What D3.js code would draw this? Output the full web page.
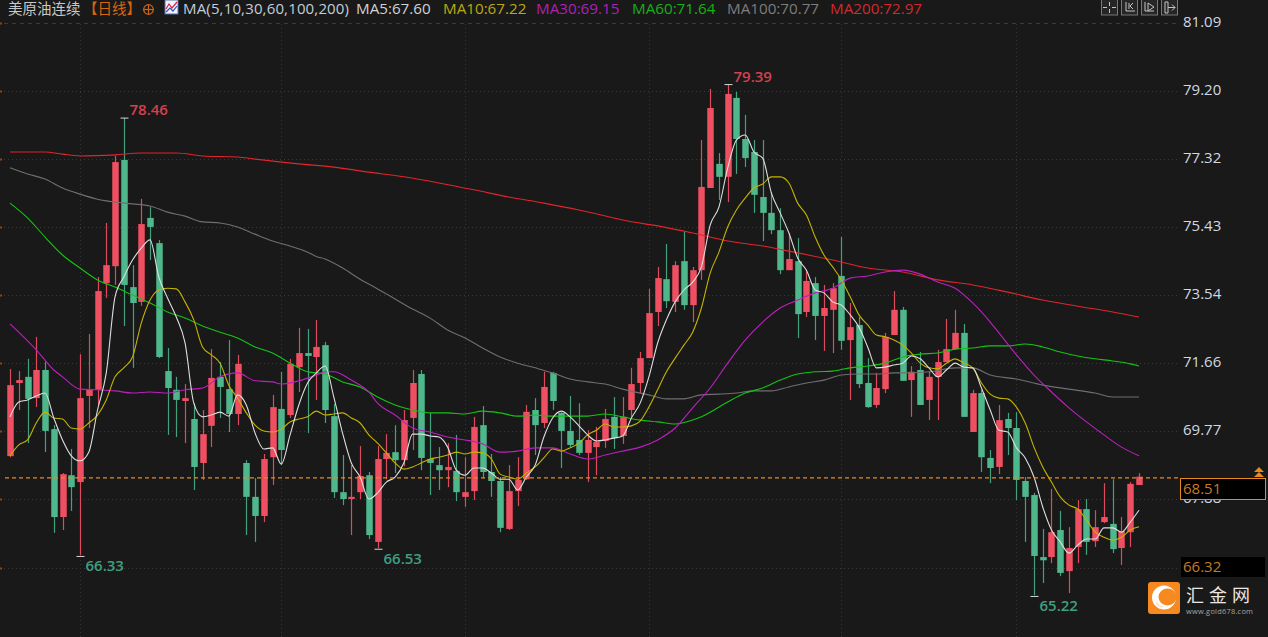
<!DOCTYPE html>
<html><head><meta charset="utf-8">
<script src="https://cdn.jsdelivr.net/npm/d3@7/dist/d3.min.js"></script>
<style>html,body{margin:0;padding:0;background:#191919;overflow:hidden}svg{display:block}</style>
</head><body><div id="chart"></div>
<script>
const priceTicks=[81.09,79.20,77.32,75.43,73.54,71.66,69.77,67.88,65.99];
const vGridIdx=[8,31,52,73,95,115];
const openP=[69.08,71.11,71.28,70.69,71.47,69.83,67.39,68.55,68.36,70.75,
70.92,73.88,74.35,77.30,73.77,73.36,75.69,74.99,71.44,70.92,
70.61,70.11,68.89,69.92,71.28,70.94,70.25,68.89,67.95,67.42,
69.05,70.39,70.22,71.55,71.94,71.83,72.16,70.19,68.08,67.89,
68.08,68.55,66.70,69.00,69.19,68.97,70.14,71.36,69.00,68.83,
68.69,68.67,67.95,68.11,69.94,68.64,68.39,67.06,68.11,68.44,
70.36,70.00,71.39,70.28,69.78,69.53,69.17,69.33,69.50,70.17,
69.64,70.36,71.11,71.80,73.08,73.99,73.36,74.49,73.27,74.24,
76.52,77.19,76.83,79.02,77.88,77.52,76.27,75.83,75.35,74.24,
74.49,73.08,73.88,72.97,73.14,74.08,72.30,72.72,71.11,70.50,
70.94,72.44,73.14,71.19,71.47,70.64,71.28,71.69,72.05,72.50,
69.75,70.83,69.03,68.78,70.11,69.86,68.39,68.00,66.28,66.28,
67.03,65.89,66.56,67.61,66.72,67.25,67.20,66.53,66.97,68.28];
const closeP=[71.05,71.19,70.67,71.47,69.78,67.39,68.58,68.22,70.69,70.94,
73.66,74.38,77.24,73.83,73.33,75.52,75.44,71.83,70.97,70.64,
70.69,68.78,69.69,71.25,71.00,70.25,71.64,67.95,67.42,69.00,
70.44,69.25,71.64,71.94,71.86,72.11,70.36,68.08,67.89,67.95,
68.53,66.89,69.00,69.17,68.97,70.08,71.11,69.03,68.89,68.69,
68.78,68.08,68.08,69.89,68.64,68.39,67.09,68.11,68.42,70.31,
69.94,71.00,70.61,69.78,69.39,69.17,69.53,69.47,70.11,69.58,
70.17,71.08,71.80,73.05,74.02,73.38,74.38,73.27,74.24,76.55,
78.74,76.83,79.13,77.88,77.35,76.33,75.83,75.35,74.24,74.55,
73.02,73.94,72.97,73.19,73.74,72.28,72.66,71.08,70.44,70.97,
72.39,73.14,71.17,71.42,70.50,71.28,71.69,72.05,72.50,70.17,
70.83,69.05,68.75,70.08,69.86,68.42,67.95,66.31,66.19,66.97,
65.84,66.53,67.61,66.70,67.11,67.39,66.50,67.00,68.31,68.51];
const highP=[71.50,71.44,71.78,72.39,71.69,69.94,68.61,69.28,71.91,72.47,
74.05,75.55,77.41,78.46,74.38,76.22,75.99,75.08,72.08,71.28,
71.08,70.55,70.36,72.05,71.69,72.30,71.89,68.97,68.47,69.14,
70.78,71.42,71.78,72.64,72.61,72.86,72.25,70.53,69.11,68.83,
69.36,68.64,69.36,69.69,69.94,70.36,71.47,71.47,70.28,69.33,
69.44,69.67,69.05,70.17,70.47,69.14,68.50,68.83,69.05,70.50,
70.69,71.42,71.42,70.30,70.75,70.55,69.80,69.89,70.39,70.72,
70.72,71.53,71.97,73.72,74.33,74.97,74.49,75.30,74.33,77.85,
79.27,77.49,79.39,79.19,78.55,77.85,77.85,76.41,75.96,75.27,
75.13,74.24,74.05,73.83,73.88,75.16,73.33,72.94,71.80,71.39,
72.50,73.66,73.22,71.58,71.97,71.42,72.03,72.89,73.14,72.75,
70.92,70.92,69.25,70.50,70.28,70.30,68.50,68.06,67.06,68.17,
67.56,67.11,67.86,67.89,67.58,68.33,68.44,67.39,68.36,68.61];
const lowP=[69.05,70.36,69.44,70.44,69.19,66.95,67.03,67.56,66.33,69.86,
70.50,73.47,73.83,72.69,71.53,73.25,74.52,71.80,69.67,69.61,
69.44,68.14,68.42,69.33,70.14,69.75,69.94,66.89,66.70,67.25,
68.28,68.83,70.14,70.86,69.72,70.64,70.00,67.92,67.72,66.89,
67.89,66.78,66.53,68.44,68.61,68.80,69.25,68.69,68.00,68.14,
68.22,67.83,67.67,67.86,68.47,67.95,66.97,67.03,67.70,68.42,
69.11,69.86,70.36,68.75,69.33,69.11,68.36,68.55,69.31,69.28,
69.42,70.17,70.83,71.80,72.69,73.19,73.08,73.14,72.80,73.97,
76.52,76.19,76.13,76.91,77.10,75.83,75.05,75.24,74.13,74.24,
72.36,72.94,72.30,72.00,71.94,72.03,70.64,70.97,70.42,70.42,
70.83,72.44,71.17,70.17,70.50,70.08,70.08,71.69,72.03,70.17,
69.75,68.64,68.33,68.58,69.11,67.86,66.70,65.22,65.56,66.11,
65.75,65.28,66.11,66.34,66.56,67.22,66.39,66.06,66.56,68.28];
const ma5=[70.17,70.58,70.64,70.75,70.83,70.14,69.53,69.09,68.95,69.19,
70.36,71.39,73.50,74.05,74.52,74.85,75.08,74.05,73.47,72.94,
72.22,70.55,70.17,70.22,70.30,70.19,70.78,70.50,69.72,69.28,
69.31,68.86,69.67,70.50,71.11,71.39,71.58,70.72,69.72,68.89,
68.50,67.89,68.06,68.36,68.50,68.89,69.69,69.69,69.64,69.61,
69.33,68.69,68.55,68.75,68.75,68.61,68.44,68.44,68.14,68.50,
68.83,69.61,70.14,70.33,70.17,69.92,69.67,69.50,69.53,69.58,
69.64,70.14,70.55,71.28,72.22,72.86,73.36,73.69,73.91,74.33,
75.49,75.99,77.07,77.85,77.99,77.52,77.35,76.38,75.83,75.27,
74.58,74.24,73.69,73.61,73.36,73.27,73.00,72.66,72.11,71.53,
71.55,71.61,71.66,71.86,71.78,71.53,71.28,71.47,71.66,71.55,
71.53,70.97,70.36,69.80,69.75,69.31,69.03,68.50,67.67,67.03,
66.70,66.39,66.61,66.78,66.78,67.09,67.09,66.97,67.25,67.58];
const ma10=[69.09,69.39,69.53,70.00,70.30,70.14,70.11,69.86,69.83,70.00,
70.22,70.64,71.28,71.53,71.83,72.77,73.41,73.69,73.74,73.72,
73.36,72.86,72.11,71.89,71.66,71.05,70.69,70.28,69.94,69.78,
69.75,69.83,70.03,70.11,70.17,70.33,70.22,70.25,70.28,70.14,
70.00,69.67,69.44,69.17,68.89,68.72,68.78,68.89,69.00,69.05,
69.11,69.19,69.14,69.19,69.17,69.00,68.58,68.50,68.44,68.61,
68.78,69.03,69.28,69.22,69.31,69.44,69.67,69.80,69.97,69.89,
69.89,69.92,70.05,70.44,70.92,71.42,71.80,72.16,72.52,73.19,
74.16,74.74,75.44,75.91,76.24,76.52,76.63,76.83,76.83,76.66,
76.10,75.77,75.16,74.66,74.33,73.97,73.50,73.00,72.72,72.44,
72.39,72.30,72.16,71.94,71.66,71.53,71.50,71.66,71.78,71.66,
71.53,71.11,70.80,70.69,70.67,70.44,70.00,69.33,68.78,68.36,
67.95,67.72,67.61,67.31,66.97,66.83,66.75,66.83,67.03,67.12];
const ma30Idx=[0,3,5,6,8,10,12,14,16,18,20,22,24,26,28,30,31,33,35,36,37,39,41,42,44,46,48,50,52,54,56,58,60,62,64,66,68,70,72,74,76,78,80,82,84,86,88,90,92,94,96,98,100,102,104,106,108,110,112,113,115,117,119,121,123,125,127,129];
const ma30=[72.75,72.03,71.47,71.28,70.94,70.92,70.89,70.83,70.86,70.83,70.92,70.97,71.28,71.39,71.17,71.14,71.08,71.17,71.33,71.42,71.42,71.19,70.86,70.55,70.22,69.86,69.75,69.61,69.53,69.42,69.19,69.22,69.31,69.31,69.14,69.00,69.11,69.22,69.33,69.53,69.86,70.42,70.97,71.66,72.30,72.80,73.19,73.41,73.61,73.74,74.02,74.08,74.19,74.24,74.13,73.91,73.74,73.33,72.80,72.50,71.89,71.33,70.86,70.42,70.03,69.67,69.33,69.09];
const ma60Idx=[0,2,4,6,8,10,12,14,16,18,20,22,24,26,28,30,32,34,36,38,40,42,44,46,48,50,52,54,56,58,60,62,64,66,68,70,72,74,76,78,79,80,82,84,86,88,90,92,94,96,98,100,102,104,106,108,110,112,114,116,118,120,122,124,126,128,129];
const ma60=[76.10,75.69,75.16,74.66,74.30,73.97,73.77,73.55,73.33,73.08,72.91,72.69,72.52,72.36,72.11,71.94,71.66,71.42,71.36,71.14,71.00,70.72,70.50,70.36,70.28,70.28,70.25,70.33,70.28,70.19,70.22,70.19,70.19,70.19,70.25,70.17,70.08,70.03,69.97,70.08,70.17,70.30,70.58,70.83,70.97,71.19,71.36,71.42,71.44,71.53,71.58,71.66,71.83,71.91,71.94,72.05,72.08,72.14,72.14,72.19,72.11,71.97,71.86,71.78,71.72,71.64,71.58];
const ma100Idx=[0,2,4,6,8,10,12,14,16,18,20,22,24,26,28,30,32,34,35,36,38,40,42,44,46,48,50,52,54,56,58,60,62,64,66,68,70,73,75,77,79,81,83,85,87,89,91,93,95,97,99,101,103,105,108,110,112,115,118,121,124,126,129];
const ma100=[77.08,76.91,76.77,76.52,76.35,76.21,76.13,76.08,76.02,75.85,75.74,75.58,75.55,75.44,75.24,75.05,74.91,74.74,74.62,74.55,74.30,73.99,73.72,73.44,73.16,72.91,72.58,72.36,72.08,71.83,71.66,71.53,71.39,71.22,71.14,71.08,70.94,70.78,70.67,70.67,70.78,70.80,70.83,70.89,70.89,71.00,71.11,71.19,71.33,71.36,71.36,71.39,71.39,71.42,71.53,71.53,71.33,71.22,71.05,70.94,70.83,70.72,70.72];
const ma200Idx=[0,4,6,8,12,15,19,22,26,28,33,37,41,45,49,53,57,61,65,69,70,74,78,82,86,90,94,98,102,106,110,114,118,122,126,129];
const ma200=[77.52,77.52,77.46,77.41,77.44,77.49,77.49,77.41,77.38,77.32,77.19,77.10,76.96,76.83,76.66,76.47,76.27,76.10,75.91,75.69,75.63,75.47,75.27,75.05,74.91,74.72,74.52,74.30,74.19,73.97,73.83,73.63,73.41,73.24,73.08,72.94];
const extremes=[{i:13,v:78.46,t:"78.46",up:true},{i:82,v:79.39,t:"79.39",up:true},{i:8,v:66.33,t:"66.33",up:false},{i:42,v:66.53,t:"66.53",up:false},{i:117,v:65.22,t:"65.22",up:false}];
const legend=[["MA5:67.60","#d2d2d2",356],["MA10:67.22","#b9a90e",443],["MA30:69.15","#b01fb8",536],["MA60:71.64","#18b018",632],["MA100:70.77","#7d7d7d",727],["MA200:72.97","#d22a2a",830]];
const lastPrice=68.51, cursorPrice="66.32";

const W=1268,H=637,RED="#ee4f61",GREEN="#4fb78c",ORANGE="#e8891f";
const font="'Open Sans','Noto Sans CJK SC',sans-serif";
const svg=d3.select("#chart").append("svg").attr("width",W).attr("height",H).style("font-family",font);
svg.append("rect").attr("width",W).attr("height",H).attr("fill","#191919");
const x=d3.scaleLinear().domain([0,129]).range([10,1139]);
const y=d3.scaleLinear().domain([65.99,81.09]).range([567.5,23.3]);

// grid
svg.append("g").selectAll("line").data(priceTicks).join("line")
 .attr("x1",4).attr("x2",1178).attr("y1",d=>Math.round(y(d))+.5).attr("y2",d=>Math.round(y(d))+.5)
 .attr("stroke","#3a3a3a").attr("stroke-dasharray",(d,i)=>i?"1 3":"4 4");
svg.append("g").selectAll("line").data(priceTicks).join("line")
 .attr("x1",0).attr("x2",2).attr("y1",d=>Math.round(y(d))+.5).attr("y2",d=>Math.round(y(d))+.5).attr("stroke","#8a4412").attr("stroke-width",2);
svg.append("g").selectAll("line").data(vGridIdx).join("line")
 .attr("x1",d=>Math.round(x(d))+.5).attr("x2",d=>Math.round(x(d))+.5).attr("y1",24).attr("y2",637)
 .attr("stroke","#363636").attr("stroke-dasharray","1 3");

// axis labels
const axis=d3.axisRight(y).tickValues(priceTicks).tickSize(0).tickPadding(0).tickFormat(d3.format(".2f"));
const ag=svg.append("g").attr("transform","translate(1183,0)").call(axis);
ag.select(".domain").remove();
ag.selectAll("text").attr("fill","#d0d8e0").attr("font-size",15).attr("font-family",font).attr("dy","0.22em");

// candles
const idx=d3.range(openP.length);
const cg=svg.append("g");
cg.selectAll("line").data(idx).join("line")
 .attr("x1",i=>Math.round(x(i))+.5).attr("x2",i=>Math.round(x(i))+.5)
 .attr("y1",i=>y(highP[i])).attr("y2",i=>y(lowP[i]))
 .attr("stroke",i=>closeP[i]>=openP[i]?"#dc4a5b":"#44a17c").attr("stroke-width",1.2);
cg.selectAll("rect").data(idx).join("rect")
 .attr("x",i=>Math.round(x(i))-2.75).attr("width",6.5)
 .attr("y",i=>y(Math.max(openP[i],closeP[i])))
 .attr("height",i=>Math.max(1.5,Math.abs(y(openP[i])-y(closeP[i]))))
 .attr("fill",i=>closeP[i]>=openP[i]?RED:GREEN);

// MA lines
const maSeries=[[ma200Idx,ma200,"#e0252b"],[ma100Idx,ma100,"#6f6f6f"],[ma60Idx,ma60,"#14c414"],[ma30Idx,ma30,"#bd1fc0"],[idx,ma10,"#c4b400"],[idx,ma5,"#dedede"]];
const lineGen=d3.line().x(d=>x(d[0])).y(d=>y(d[1])).curve(d3.curveMonotoneX);
svg.append("g").selectAll("path").data(maSeries).join("path")
 .attr("d",s=>lineGen(s[0].map((k,j)=>[k,s[1][j]])))
 .attr("fill","none").attr("stroke",s=>s[2]).attr("stroke-width",1.1);

// last price dashed
svg.append("line").attr("x1",5).attr("x2",1181).attr("y1",y(lastPrice)+1.2).attr("y2",y(lastPrice)+1.2)
 .attr("stroke",ORANGE).attr("stroke-width",1.2).attr("stroke-dasharray","4 3");

// extremes
extremes.forEach(e=>{
 const cx=Math.round(x(e.i))+.5, cy=y(e.v)+(e.up?0:1.2);
 svg.append("line").attr("x1",cx-4).attr("x2",cx+4).attr("y1",cy).attr("y2",cy).attr("stroke","#d8d8d8");
 svg.append("text").attr("x",cx+5).attr("y",e.up?cy-3:cy+14.5).text(e.t)
  .attr("fill",e.up?"#d5404e":"#3f9f80").attr("font-size",15).attr("font-weight",600);
});

// header
svg.append("text").attr("x",8).attr("y",14).text("美原油连续").attr("fill","#c8c8c8").attr("font-size",14.5);
svg.append("text").attr("x",83).attr("y",14).text("【日线】").attr("fill","#d9650f").attr("font-size",14.5);
const hc=svg.append("g").attr("stroke","#c9641a").attr("fill","none").attr("stroke-width",1.2);
hc.append("circle").attr("cx",148.5).attr("cy",9.5).attr("r",4.8);
hc.append("line").attr("x1",143).attr("x2",154).attr("y1",9.5).attr("y2",9.5);
hc.append("line").attr("x1",148.5).attr("x2",148.5).attr("y1",4).attr("y2",15);
svg.append("rect").attr("x",165).attr("y",0).attr("width",13).attr("height",14).attr("fill","#eef2ff").attr("stroke","#5a6fa8");
svg.append("path").attr("d","M166 9L169 4L172 8L177 2").attr("stroke","#e02030").attr("fill","none").attr("stroke-width",1.2);
svg.append("path").attr("d","M166 12L170 8L173 11L177 6").attr("stroke","#3050c0").attr("fill","none").attr("stroke-width",1.2);
svg.append("text").attr("x",183).attr("y",14).text("MA(5,10,30,60,100,200)").attr("fill","#c3cdd8").attr("font-size",15).attr("textLength",166);
svg.append("g").selectAll("text").data(legend).join("text").attr("x",d=>d[2]).attr("y",14).text(d=>d[0]).attr("fill",d=>d[1]).attr("font-size",15.2);

// toolbar icons
const glyphs=["M1109.5 2v4M1109.5 9v4M1103 7.5h4M1112 7.5h4","M1126 2v9h9M1129 3v6M1133 3l-3 3 3 3","M1145 2v9h9M1148 3l6 4-6 4z","M1165 2h3v11h-3zM1168 7.5h7M1172 4.5l3 3-3 3"];
[1102,1122,1142,1162].forEach((bx,i)=>{
 svg.append("rect").attr("x",bx-.5).attr("y",-1).attr("width",16).attr("height",16).attr("fill","#262626").attr("stroke","#777");
 svg.append("path").attr("d",glyphs[i]).attr("stroke","#c4c4c4").attr("fill","none");
});

// price boxes
svg.append("rect").attr("x",1180.5).attr("y",478.5).attr("width",85).attr("height",21).attr("fill","#000").attr("stroke",ORANGE);
svg.append("text").attr("x",1183).attr("y",494).text(lastPrice.toFixed(2)).attr("fill","#c87a20").attr("font-size",15);
svg.append("path").attr("d","M1254 472l5-5 5 5zM1254 477l5-5 5 5z").attr("fill",ORANGE);
svg.append("rect").attr("x",1181).attr("y",557).attr("width",84).attr("height",20).attr("fill","#000");
svg.append("text").attr("x",1183).attr("y",572).text(cursorPrice).attr("fill","#c87a20").attr("font-size",15);

// logo
svg.append("rect").attr("x",1148).attr("y",582).attr("width",32).attr("height",32).attr("rx",3).attr("fill","#f6891f");
svg.append("circle").attr("cx",1164).attr("cy",597.5).attr("r",12).attr("fill","#fff");
svg.append("ellipse").attr("cx",1167.5).attr("cy",597).attr("rx",9).attr("ry",8.5).attr("fill","#f6891f");
svg.append("path").attr("d","M1156 600q2 6 9 7q-6 1-9-3z").attr("fill","#ffe0c0");
svg.append("text").attr("x",1186).attr("y",601.5).text("汇金网").attr("fill","#ece6e0").attr("font-size",18).attr("letter-spacing",5).attr("font-family","'Noto Sans CJK SC'");
svg.append("text").attr("x",1186).attr("y",613.5).text("www.gold678.com").attr("fill","#a9a49e").attr("font-size",7.4).attr("letter-spacing",.25);
</script></body></html>
